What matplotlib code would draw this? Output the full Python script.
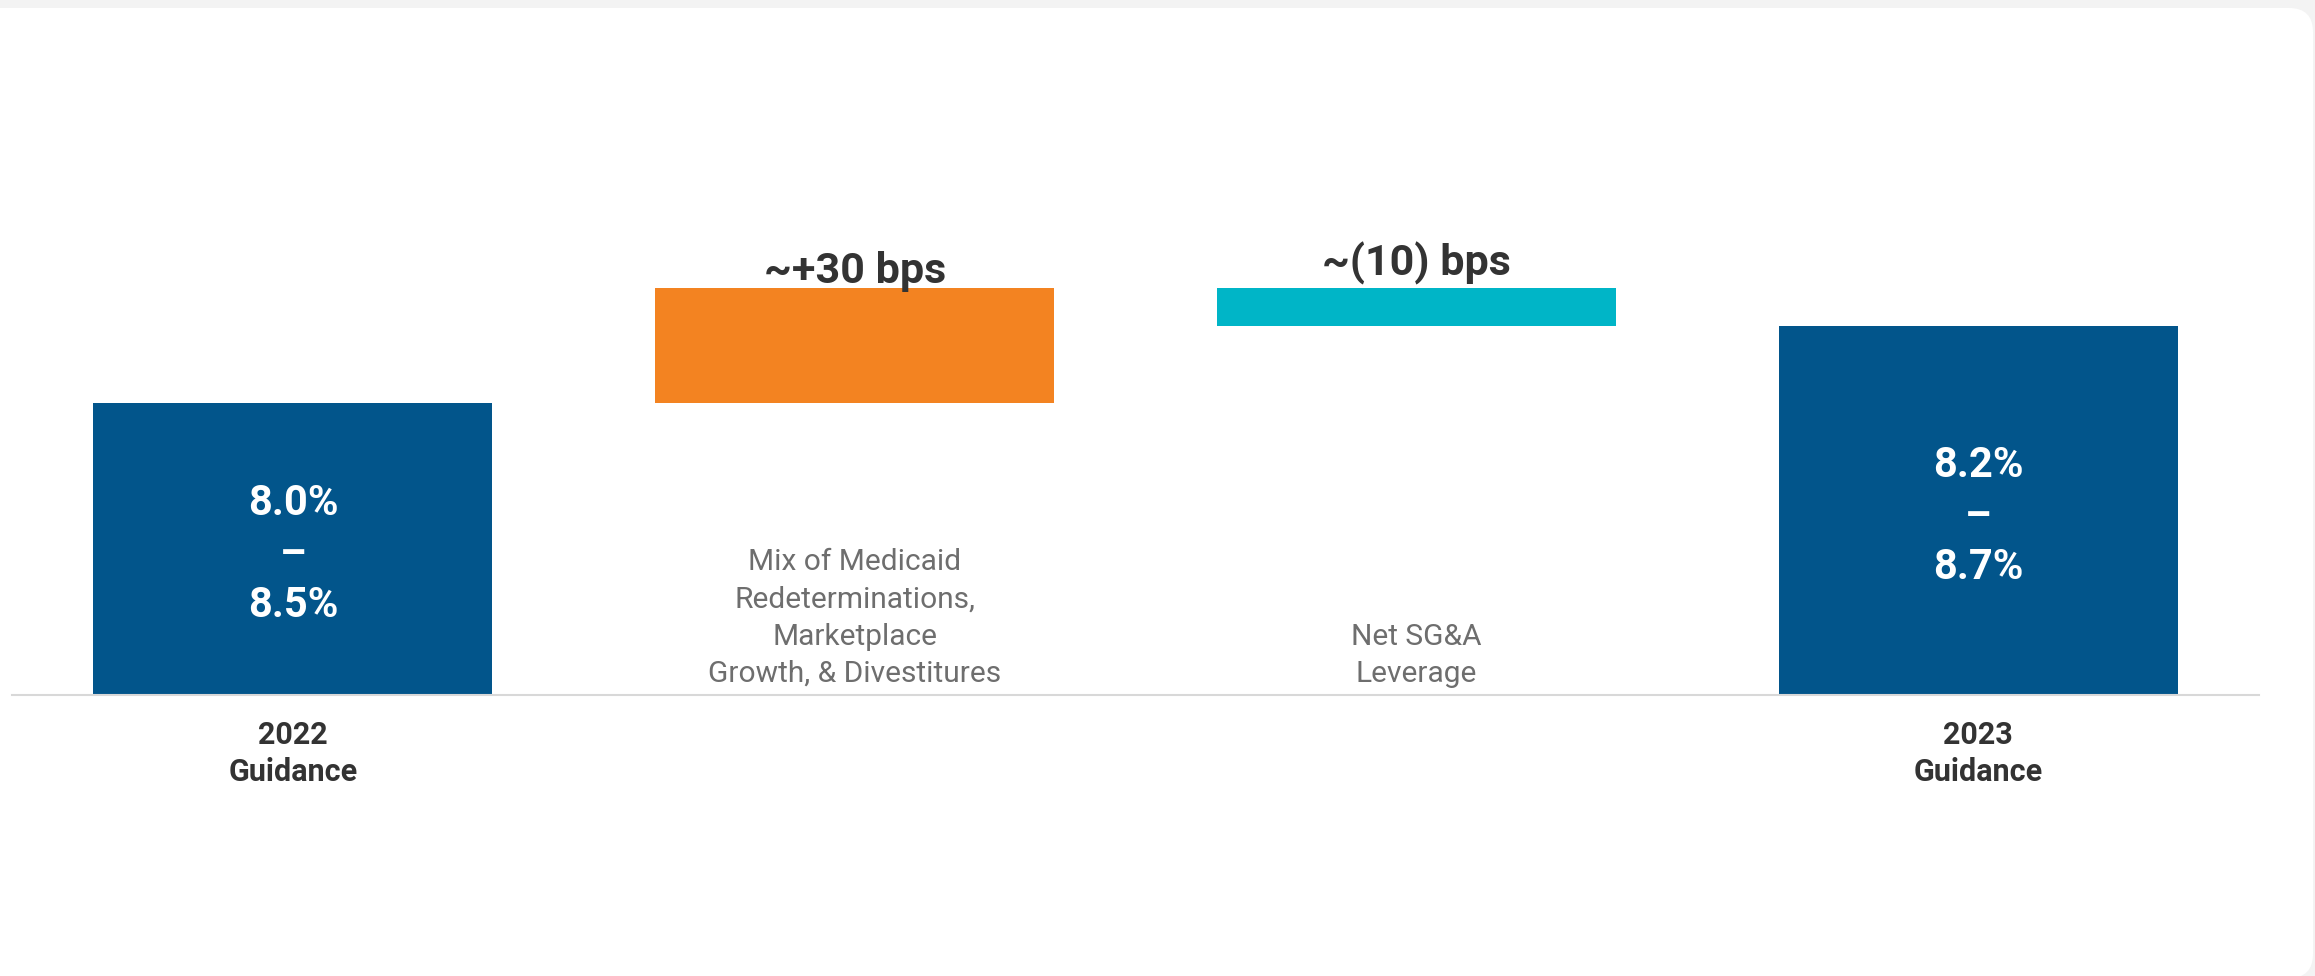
import matplotlib
matplotlib.use('Agg')
import matplotlib.pyplot as plt
import matplotlib.transforms as mtransforms
from matplotlib.patches import FancyBboxPatch

plt.rcParams['font.family'] = ['Roboto', 'DejaVu Sans']

# data
steps = ['2022 Guidance', 'Mix', 'Net SG&A', '2023 Guidance']
tick_labels = ['2022\nGuidance', '', '', '2023\nGuidance']
step_notes = ['', 'Mix of Medicaid\nRedeterminations,\nMarketplace\nGrowth, & Divestitures',
              'Net SG&A\nLeverage', '']
start_value = 8.25            # midpoint of 8.0% - 8.5%
deltas = [0.30, -0.10]        # ~+30 bps, ~(10) bps
delta_labels = ['~+30 bps', '~(10) bps']
range_labels = ['8.0%\n–\n8.5%', '8.2%\n–\n8.7%']

NAVY = '#02558b'
ORANGE = '#f38321'
TEAL = '#00b5c7'
DARK = '#333333'
GREY = '#6e6e6e'


def main():
    fig = plt.figure(figsize=(23.15, 9.76), dpi=100, facecolor='#f3f3f3')

    # white card with rounded corners (pixel coordinates)
    card = FancyBboxPatch((-50, -2), 2363, 970,
                          boxstyle='round,pad=0,rounding_size=24',
                          facecolor='white', edgecolor='none',
                          transform=mtransforms.IdentityTransform(), zorder=-5)
    fig.add_artist(card)

    ax = fig.add_axes([12 / 2315, 281 / 976, 2247 / 2315, 595 / 976])
    ax.patch.set_visible(False)

    end_value = start_value + sum(deltas)
    x = list(range(len(steps)))
    width = 0.71

    # totals
    ax.bar([x[0], x[-1]], [start_value, end_value], width=width, color=NAVY, zorder=2)
    # changes
    level = start_value
    colors = [ORANGE, TEAL]
    label_lift = [4, 9]
    for i, d in enumerate(deltas):
        bottom = level if d >= 0 else level + d
        ax.bar(x[i + 1], abs(d), bottom=bottom, width=width, color=colors[i], zorder=2)
        top = bottom + abs(d)
        ax.annotate(delta_labels[i], xy=(x[i + 1], top), xytext=(0, label_lift[i]),
                    textcoords='offset points', ha='center', va='baseline',
                    fontsize=31, fontweight='bold', color=DARK, zorder=3)
        level += d

    ymin = 7.49
    ax.set_ylim(ymin, 9.04)
    ax.set_xlim(-0.5, 3.5)

    # range labels inside total bars
    for xi, val, lab in zip([x[0], x[-1]], [start_value, end_value], range_labels):
        ax.annotate(lab, xy=(xi, (ymin + val) / 2), xytext=(0, -4),
                    textcoords='offset points', ha='center', va='center',
                    fontsize=30, fontweight='bold', color='white',
                    linespacing=1.31, zorder=3)

    # descriptions for the change steps
    for xi, note in zip(x, step_notes):
        if note:
            ax.annotate(note, xy=(xi, 0), xycoords=('data', 'axes fraction'),
                        xytext=(0, 5), textcoords='offset points',
                        ha='center', va='bottom', fontsize=21.5, color=GREY,
                        linespacing=1.42)

    ax.set_xticks(x)
    ax.set_xticklabels(tick_labels, fontsize=22, fontweight='bold', color=DARK,
                       linespacing=1.3)
    ax.tick_params(axis='x', length=0, pad=18)
    ax.set_yticks([])
    for side in ['top', 'right', 'left']:
        ax.spines[side].set_visible(False)
    ax.spines['bottom'].set_color('#d8d8d8')
    ax.spines['bottom'].set_linewidth(1.5)
    ax.spines['bottom'].set_zorder(4)

    fig.savefig('out.png', dpi=100, facecolor=fig.get_facecolor())
    plt.close(fig)


if __name__ == '__main__':
    main()
